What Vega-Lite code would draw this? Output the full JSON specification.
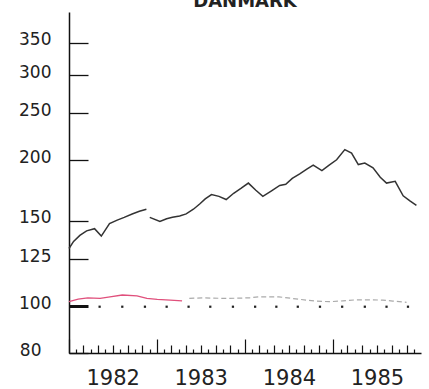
{
  "$schema": "https://vega.github.io/schema/vega-lite/v6.json",
  "width": 352,
  "height": 341,
  "autosize": {"type": "none"},
  "padding": {"left": 69, "top": 12, "right": 8, "bottom": 36},
  "background": "white",
  "title": {
    "text": "DANMARK",
    "font": "DejaVu Sans",
    "fontSize": 18,
    "fontWeight": "bold",
    "color": "#222",
    "anchor": "middle",
    "frame": "group",
    "baseline": "alphabetic",
    "offset": -13
  },
  "config": {"view": {"stroke": null}},
  "datasets": {
    "index": [
      {"date": "1982-01-01", "v": 131.5, "seg": 1},
      {"date": "1982-01-20", "v": 136, "seg": 1},
      {"date": "1982-02-15", "v": 140, "seg": 1},
      {"date": "1982-03-15", "v": 143, "seg": 1},
      {"date": "1982-04-17", "v": 144.5, "seg": 1},
      {"date": "1982-05-15", "v": 139.5, "seg": 1},
      {"date": "1982-06-18", "v": 148, "seg": 1},
      {"date": "1982-07-20", "v": 150.5, "seg": 1},
      {"date": "1982-08-18", "v": 152.5, "seg": 1},
      {"date": "1982-09-20", "v": 155, "seg": 1},
      {"date": "1982-10-20", "v": 157, "seg": 1},
      {"date": "1982-11-18", "v": 158.5, "seg": 1},
      {"date": "1982-12-02", "v": 152.5, "seg": 2},
      {"date": "1983-01-13", "v": 149.5, "seg": 2},
      {"date": "1983-02-10", "v": 151.5, "seg": 2},
      {"date": "1983-03-06", "v": 152.5, "seg": 2},
      {"date": "1983-04-05", "v": 153.5, "seg": 2},
      {"date": "1983-05-02", "v": 155, "seg": 2},
      {"date": "1983-06-01", "v": 158.5, "seg": 2},
      {"date": "1983-06-27", "v": 162.5, "seg": 2},
      {"date": "1983-07-20", "v": 166.5, "seg": 2},
      {"date": "1983-08-15", "v": 170, "seg": 2},
      {"date": "1983-09-15", "v": 168.5, "seg": 2},
      {"date": "1983-10-15", "v": 166, "seg": 2},
      {"date": "1983-11-15", "v": 171, "seg": 2},
      {"date": "1983-12-15", "v": 175, "seg": 2},
      {"date": "1984-01-15", "v": 179.5, "seg": 2},
      {"date": "1984-02-15", "v": 173.5, "seg": 2},
      {"date": "1984-03-15", "v": 168.5, "seg": 2},
      {"date": "1984-04-20", "v": 173, "seg": 2},
      {"date": "1984-05-24", "v": 177.5, "seg": 2},
      {"date": "1984-06-18", "v": 178.5, "seg": 2},
      {"date": "1984-07-15", "v": 183.5, "seg": 2},
      {"date": "1984-08-15", "v": 187.5, "seg": 2},
      {"date": "1984-09-15", "v": 192, "seg": 2},
      {"date": "1984-10-10", "v": 195.5, "seg": 2},
      {"date": "1984-11-15", "v": 190.5, "seg": 2},
      {"date": "1984-12-15", "v": 195.5, "seg": 2},
      {"date": "1985-01-15", "v": 200.5, "seg": 2},
      {"date": "1985-02-18", "v": 210.5, "seg": 2},
      {"date": "1985-03-18", "v": 207, "seg": 2},
      {"date": "1985-04-15", "v": 196, "seg": 2},
      {"date": "1985-05-12", "v": 197.5, "seg": 2},
      {"date": "1985-06-15", "v": 193, "seg": 2},
      {"date": "1985-07-15", "v": 184.5, "seg": 2},
      {"date": "1985-08-10", "v": 179.5, "seg": 2},
      {"date": "1985-09-15", "v": 181, "seg": 2},
      {"date": "1985-10-18", "v": 169, "seg": 2},
      {"date": "1985-11-15", "v": 165, "seg": 2},
      {"date": "1985-12-12", "v": 161.5, "seg": 2}
    ],
    "pink": [
      {"date": "1982-01-01", "v": 102.1},
      {"date": "1982-02-08", "v": 103.4},
      {"date": "1982-03-20", "v": 104.0},
      {"date": "1982-05-10", "v": 103.7},
      {"date": "1982-06-20", "v": 104.5},
      {"date": "1982-08-10", "v": 105.4},
      {"date": "1982-10-10", "v": 105.0},
      {"date": "1982-11-20", "v": 103.7},
      {"date": "1983-01-02", "v": 103.2},
      {"date": "1983-02-25", "v": 102.9},
      {"date": "1983-04-15", "v": 102.5}
    ],
    "grey": [
      {"date": "1983-05-15", "v": 103.7},
      {"date": "1983-07-10", "v": 104.0},
      {"date": "1983-10-15", "v": 103.7},
      {"date": "1984-01-20", "v": 104.0},
      {"date": "1984-03-01", "v": 104.5},
      {"date": "1984-05-20", "v": 104.5},
      {"date": "1984-07-15", "v": 103.7},
      {"date": "1984-09-10", "v": 102.9},
      {"date": "1984-10-20", "v": 102.4},
      {"date": "1984-12-15", "v": 102.1},
      {"date": "1985-02-10", "v": 102.5},
      {"date": "1985-04-05", "v": 103.0},
      {"date": "1985-06-01", "v": 103.0},
      {"date": "1985-07-25", "v": 102.9},
      {"date": "1985-09-05", "v": 102.4},
      {"date": "1985-11-01", "v": 101.8}
    ],
    "dots": [
      {"date": "1982-05-08", "v": 99.7},
      {"date": "1982-08-10", "v": 99.7},
      {"date": "1982-11-12", "v": 99.7},
      {"date": "1983-02-10", "v": 99.7},
      {"date": "1983-05-12", "v": 99.7},
      {"date": "1983-08-10", "v": 99.7},
      {"date": "1983-11-12", "v": 99.7},
      {"date": "1984-02-12", "v": 99.7},
      {"date": "1984-05-10", "v": 99.7},
      {"date": "1984-08-07", "v": 99.7},
      {"date": "1984-11-07", "v": 99.7},
      {"date": "1985-02-07", "v": 99.7},
      {"date": "1985-05-12", "v": 99.7},
      {"date": "1985-08-10", "v": 99.7},
      {"date": "1985-11-07", "v": 99.7}
    ]
  },
  "encoding": {
    "x": {
      "field": "date",
      "type": "temporal",
      "scale": {"domain": ["1982-01-01", "1985-12-31"]},
      "axis": {
        "title": null,
        "grid": false,
        "tickCount": {"interval": "month", "step": 1},
        "domainColor": "#111",
        "domainWidth": 1.5,
        "tickColor": "#111",
        "tickWidth": 1.2,
        "tickSize": {
          "condition": [
            {"test": "month(datum.value)==0", "value": -14},
            {"test": "month(datum.value)%2==0", "value": -8}
          ],
          "value": -4
        },
        "labelExpr": "month(datum.value)==6 ? timeFormat(datum.value, '%Y') : ''",
        "labelFont": "DejaVu Sans",
        "labelFontSize": 21,
        "labelColor": "#222",
        "labelPadding": 22,
        "labelFlush": false,
        "labelOverlap": false
      }
    },
    "y": {
      "field": "v",
      "type": "quantitative",
      "scale": {"type": "log", "domain": [80, 405], "nice": false},
      "axis": {
        "title": null,
        "grid": false,
        "values": [80, 100, 125, 150, 200, 250, 300, 350],
        "domainColor": "#111",
        "domainWidth": 1.5,
        "tickColor": "#111",
        "tickSize": -19,
        "tickWidth": {"condition": {"test": "datum.value==100", "value": 3}, "value": 1.3},
        "labelFont": "DejaVu Sans",
        "labelFontSize": 17,
        "labelColor": "#222",
        "labelPadding": {"condition": {"test": "datum.value==80", "value": 47}, "value": 37},
        "labelBaseline": "alphabetic",
        "labelOffset": 2
      }
    }
  },
  "layer": [
    {
      "data": {"name": "index"},
      "mark": {"type": "line", "color": "#333", "strokeWidth": 1.5},
      "encoding": {"detail": {"field": "seg"}}
    },
    {
      "data": {"name": "pink"},
      "mark": {"type": "line", "color": "#e0507c", "strokeWidth": 1.3}
    },
    {
      "data": {"name": "grey"},
      "mark": {"type": "line", "color": "#aaaaaa", "strokeWidth": 1.2, "strokeDash": [5, 3]}
    },
    {
      "data": {"name": "dots"},
      "mark": {"type": "square", "color": "#222", "size": 5, "opacity": 1}
    }
  ]
}
